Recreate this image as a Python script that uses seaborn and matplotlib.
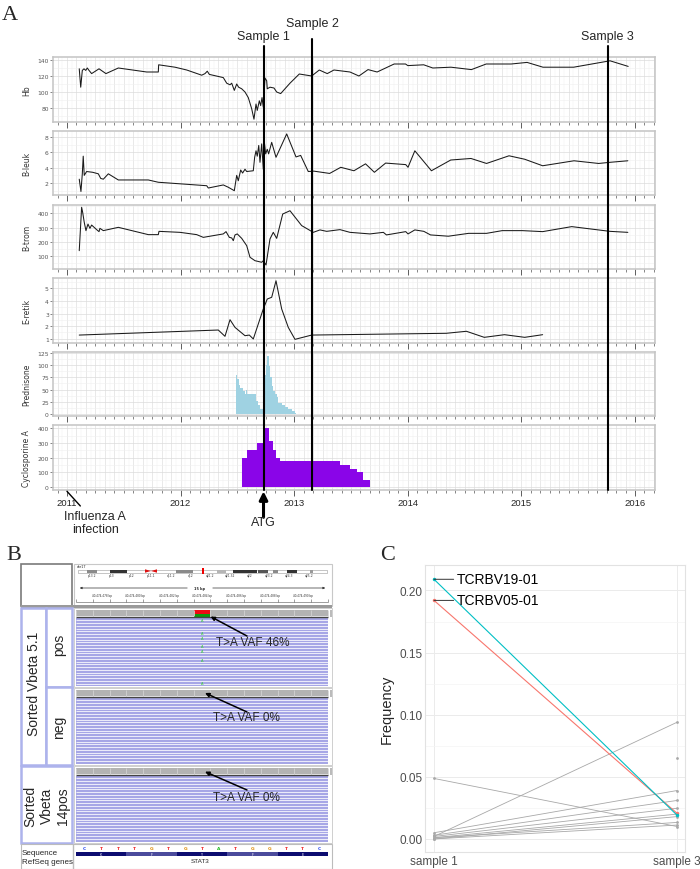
import numpy as np
import pandas as pd
import matplotlib
matplotlib.use("Agg")
import matplotlib.pyplot as plt
import seaborn as sns
from matplotlib.patches import Rectangle, Polygon
from matplotlib.lines import Line2D
from matplotlib.transforms import blended_transform_factory
from matplotlib.ticker import AutoMinorLocator

W, H = 700, 870

# ---------------------------------------------------------------------
# Panel A data (dates as decimal years)
# ---------------------------------------------------------------------
hb_dates = [2011.108, 2011.121, 2011.135, 2011.150, 2011.165, 2011.179, 2011.194, 2011.217,
            2011.282, 2011.343, 2011.452, 2011.702, 2011.804, 2011.807, 2011.951, 2012.054,
            2012.186, 2012.215, 2012.235, 2012.253, 2012.376, 2012.406, 2012.435, 2012.450,
            2012.473, 2012.494, 2012.511, 2012.538, 2012.567, 2012.596, 2012.626, 2012.646,
            2012.664, 2012.675, 2012.693, 2012.705, 2012.717, 2012.728, 2012.743, 2012.758,
            2012.763, 2012.787, 2012.822, 2012.846, 2012.881, 2012.963, 2013.045, 2013.154,
            2013.221, 2013.291, 2013.350, 2013.491, 2013.570, 2013.650, 2013.730, 2013.880,
            2013.980, 2014.000, 2014.140, 2014.220, 2014.380, 2014.560, 2014.690, 2014.910,
            2015.050, 2015.190, 2015.460, 2015.780, 2015.940]
hb_vals = [129, 106, 127, 129, 127, 130, 127, 123, 129, 123, 130, 125, 125, 134, 131, 127.5,
           121, 123, 126, 122, 118, 111, 109, 111, 102, 110, 106, 104, 100, 93, 79, 66,
           85, 77, 89, 83, 93, 81, 117.5, 114, 104, 106, 105, 100, 98, 111, 122.5, 120,
           127.5, 123, 127.5, 125, 120, 128, 125, 135, 135, 133, 134, 130, 131, 128, 135, 135,
           137, 131, 131, 139, 132]

leuk_dates = [2011.108, 2011.123, 2011.135, 2011.143, 2011.152, 2011.173, 2011.226, 2011.276,
              2011.297, 2011.320, 2011.364, 2011.452, 2011.716, 2011.804, 2012.230, 2012.244,
              2012.376, 2012.420, 2012.473, 2012.494, 2012.508, 2012.529, 2012.546, 2012.567,
              2012.582, 2012.640, 2012.652, 2012.664, 2012.675, 2012.688, 2012.699, 2012.714,
              2012.728, 2012.737, 2012.749, 2012.763, 2012.775, 2012.802, 2012.840, 2012.934,
              2013.016, 2013.057, 2013.124, 2013.173, 2013.312, 2013.410, 2013.526, 2013.628,
              2013.706, 2013.805, 2013.982, 2014.002, 2014.062, 2014.208, 2014.378, 2014.556,
              2014.693, 2014.891, 2015.029, 2015.187, 2015.463, 2015.680, 2015.780, 2015.937]
leuk_vals = [2.5, 0.9, 3.2, 5.5, 3.0, 3.5, 3.4, 3.2, 2.6, 2.5, 3.2, 2.4, 2.4, 2.1, 1.65, 1.35,
             1.75, 1.45, 1.0, 3.0, 2.3, 3.7, 3.3, 3.8, 3.5, 3.6, 5.35, 6.2, 5.5, 6.9, 4.7, 7.1,
             3.8, 7.4, 5.8, 6.4, 5.8, 7.3, 5.35, 8.4, 5.4, 5.6, 3.5, 3.55, 3.25, 4.05, 3.6, 4.5,
             3.4, 4.6, 4.4, 4.05, 6.2, 3.6, 5.0, 5.2, 4.55, 5.55, 5.1, 4.25, 4.9, 4.55, 4.7, 4.9]

trom_dates = [2011.108, 2011.129, 2011.138, 2011.152, 2011.167, 2011.185, 2011.202, 2011.217,
              2011.261, 2011.282, 2011.290, 2011.320, 2011.452, 2011.716, 2011.804, 2011.810,
              2011.995, 2012.142, 2012.200, 2012.376, 2012.400, 2012.429, 2012.450, 2012.464,
              2012.479, 2012.499, 2012.538, 2012.582, 2012.611, 2012.655, 2012.714, 2012.728,
              2012.752, 2012.787, 2012.816, 2012.846, 2012.899, 2012.963, 2013.066, 2013.168,
              2013.227, 2013.286, 2013.403, 2013.491, 2013.667, 2013.785, 2013.812, 2013.982,
              2014.002, 2014.062, 2014.141, 2014.200, 2014.357, 2014.535, 2014.693, 2014.831,
              2015.009, 2015.187, 2015.443, 2015.779, 2015.937]
trom_vals = [139, 442, 407, 337, 279, 325, 295, 318, 286, 272, 295, 279, 302, 251, 251, 274,
             267, 251, 232, 256, 272, 232, 228, 209, 249, 256, 225, 174, 93, 69, 58, 69,
             39, 221, 267, 225, 395, 418, 314, 267, 284, 274, 286, 267, 256, 267, 249, 272,
             256, 284, 274, 249, 240, 260, 260, 279, 279, 272, 307, 274, 267]

retik_dates = [2011.108, 2012.332, 2012.391, 2012.435, 2012.479, 2012.567, 2012.605, 2012.640,
               2012.728, 2012.763, 2012.802, 2012.840, 2012.890, 2012.948, 2013.007, 2013.154,
               2014.338, 2014.516, 2014.673, 2014.851, 2015.029, 2015.187]
retik_vals = [1.29, 1.69, 1.19, 2.51, 1.90, 1.24, 1.29, 0.98, 3.36, 4.15, 4.29, 5.6, 3.36,
              1.90, 0.95, 1.29, 1.43, 1.59, 1.11, 1.32, 1.11, 1.32]

# step series: last date closes the final step
pred_dates = [2012.485, 2012.499, 2012.511, 2012.523, 2012.547, 2012.567, 2012.576, 2012.585,
              2012.611, 2012.664, 2012.684, 2012.699, 2012.723, 2012.734, 2012.752, 2012.763,
              2012.776, 2012.787, 2012.802, 2012.816, 2012.831, 2012.846, 2012.860, 2012.890,
              2012.919, 2012.948, 2012.978, 2013.007, 2013.013]
pred_vals = [80, 72, 60, 54, 47, 40, 49, 40, 40, 27, 17, 10, 3, 79, 101, 120, 99, 75, 58, 47,
             40, 34, 22, 18, 13, 10, 6, 2]

cyc_dates = [2012.540, 2012.582, 2012.675, 2012.734, 2012.781, 2012.811, 2012.840, 2012.875,
             2013.403, 2013.491, 2013.550, 2013.608, 2013.667]
cyc_vals = [200, 250, 300, 400, 315, 250, 200, 175, 150, 125, 100, 50]

sample_names = ["Sample 1", "Sample 2", "Sample 3"]
sample_dates = [2012.73, 2013.16, 2015.76]
year_ticks = [2011, 2012, 2013, 2014, 2015, 2016]
atg_date = 2012.73
flu_date = 2011.0

# ---------------------------------------------------------------------
# Panel C data (TCR V-beta clone frequencies)
# ---------------------------------------------------------------------
top_clones = ["TCRBV05-01", "TCRBV19-01"]
top_s1 = [0.192, 0.209]
top_s3 = [0.0205, 0.019]
other_s1 = [0.0487, 0.002, 0.005, 0.003, 0.002, 0.001, 0.000, 0.001, 0.000]
other_s3 = [0.010, 0.094, 0.039, 0.031, 0.0247, 0.020, 0.018, 0.0133, 0.0112]
lone_s3 = [0.0655]
c_labels = ["sample 1", "sample 3"]
c_yticks = [0.00, 0.05, 0.10, 0.15, 0.20]

# IGV screenshot content
seq_bases = list("CTTTGTGTATGGTTC")
base_colors = {"A": "#22bb22", "C": "#2244ee", "G": "#dd8800", "T": "#ee2222"}
amino = ["K", "F", "Y", "F", "E"]
band_labels = ["p13.2", "p13", "p12", "p11.1", "q11.2", "q12", "q21.2", "q21.32",
               "q22", "q23.2", "q24.3", "q25.2"]
coord_labels = ["40,474,478 bp", "40,474,480 bp", "40,474,482 bp", "40,474,484 bp",
                "40,474,486 bp", "40,474,488 bp", "40,474,490 bp"]

# ---------------------------------------------------------------------
sns.set_theme(style="white")
plt.rcParams['font.family'] = ['DejaVu Sans']
ARIAL = ['Liberation Sans', 'DejaVu Sans']

fig = plt.figure(figsize=(W / 100, H / 100), dpi=100)


def px_rect(l, t, r, b):
    return [l / W, 1 - b / H, (r - l) / W, (b - t) / H]


X0, X1 = 2010.877, 2016.176
months = np.arange(2011 - 1 / 12, X1, 1 / 12)
half_months = months + 1 / 24

panels = [
    ("Hb", (58, 123), (62.5, 143.75), [80, 100, 120, 140]),
    ("B-leuk", (132, 196), (0.44, 8.78), [2, 4, 6, 8]),
    ("B-trom", (206, 270), (11, 458), [100, 200, 300, 400]),
    ("E-retik", (279, 344), (0.66, 5.82), [1, 2, 3, 4, 5]),
    ("Prednisone", (353, 417), (-4.75, 127.5), [0, 25, 50, 75, 100, 125]),
    ("Cyclosporine A", (426, 491), (-20.5, 423), [0, 100, 200, 300, 400]),
]

axes = []
for i, (name, (t, b), ylim, yt) in enumerate(panels):
    ax = fig.add_axes(px_rect(53, t, 655, b))
    ax.set_xlim(X0, X1)
    ax.set_ylim(*ylim)
    ax.set_yticks(yt)
    ax.yaxis.set_minor_locator(AutoMinorLocator(2))
    ax.set_xticks(year_ticks)
    ax.set_xticks(months, minor=True)
    ax.grid(axis='x', which='both', color='#dcdcdc', lw=0.45)
    ax.grid(axis='y', which='major', color='#dcdcdc', lw=0.5)
    ax.grid(axis='y', which='minor', color='#efefef', lw=0.4)
    ax.vlines(half_months, 0, 1, transform=ax.get_xaxis_transform(),
              color='#f0f0f0', lw=0.35, zorder=0)
    ax.set_axisbelow(True)
    for s in ax.spines.values():
        s.set_color('#c4c4c4')
        s.set_linewidth(1.1)
    last = i == len(panels) - 1
    ax.tick_params(axis='x', which='major', bottom=True, length=4, width=0.6, color='#444',
                   labelbottom=last, labelsize=6.5, pad=2)
    ax.tick_params(axis='x', which='minor', bottom=True, length=2.5, width=0.5, color='#555')
    ax.tick_params(axis='y', which='major', left=True, length=2, width=0.5, color='#555',
                   labelsize=4.3, labelcolor='#555', pad=1)
    ax.tick_params(axis='y', which='minor', left=False)
    if last:
        for lab in ax.get_xticklabels():
            lab.set_fontfamily(ARIAL)
            lab.set_fontsize(6.8)
    ax.set_ylabel(name, fontsize=5.5, color='#333')
    ax.yaxis.set_label_coords(-(53 - 31) / 602, 0.5)
    axes.append(ax)

ax_hb, ax_leuk, ax_trom, ax_retik, ax_pred, ax_cyc = axes

line_kw = dict(color='#1a1a1a', lw=0.75, estimator=None, sort=False)
sns.lineplot(x=hb_dates, y=hb_vals, ax=ax_hb, **line_kw)
sns.lineplot(x=leuk_dates, y=leuk_vals, ax=ax_leuk, **line_kw)
sns.lineplot(x=trom_dates, y=trom_vals, ax=ax_trom, **line_kw)
sns.lineplot(x=retik_dates, y=retik_vals, ax=ax_retik, **line_kw)

ax_pred.fill_between(pred_dates, np.append(pred_vals, pred_vals[-1]), step='post',
                     color='#9fd2e2', lw=0, zorder=2)
ax_cyc.fill_between(cyc_dates, np.append(cyc_vals, cyc_vals[-1]), step='post',
                    color='#8a05e8', lw=0, zorder=2)

# sample lines across all panels
blend = blended_transform_factory(ax_cyc.transData, fig.transFigure)
line_tops = [47, 40, 47]
text_ys = [37, 24, 37]
for d, name, top, ty in zip(sample_dates, sample_names, line_tops, text_ys):
    fig.add_artist(Line2D([d, d], [1 - top / H, 1 - 491 / H], transform=blend,
                          color='black', lw=1.5, zorder=10))
    fig.text(d, 1 - ty / H, name, transform=blend, ha='center', va='center',
             fontsize=9, family=ARIAL)

# annotations under the time axis
ax_cyc.annotate('', xy=(atg_date, -0.02), xycoords=('data', 'axes fraction'),
                xytext=(atg_date, -0.42), textcoords=('data', 'axes fraction'),
                arrowprops=dict(arrowstyle='-|>', color='black', lw=2.2, mutation_scale=12,
                                shrinkA=0, shrinkB=0), annotation_clip=False)
ax_cyc.text(atg_date, -0.5, 'ATG', transform=ax_cyc.get_xaxis_transform(), ha='center',
            va='center', fontsize=9, family=ARIAL)
ax_cyc.annotate('Influenza A\ninfection', xy=(flu_date, -0.02), xycoords=('data', 'axes fraction'),
                xytext=(flu_date + 0.25, -0.5), textcoords=('data', 'axes fraction'),
                ha='center', va='center', fontsize=9, family=ARIAL, linespacing=1.05,
                arrowprops=dict(arrowstyle='-', color='black', lw=1.0, shrinkA=1, shrinkB=0),
                annotation_clip=False)

# ---------------------------------------------------------------------
# Panel B: IGV view drawn in pixel coordinates
# ---------------------------------------------------------------------
ov = fig.add_axes([0, 0, 1, 1], zorder=5)
ov.set_xlim(0, W)
ov.set_ylim(H, 0)
ov.axis('off')


def rect(x0, y0, x1, y1, **kw):
    ov.add_patch(Rectangle((x0, y0), x1 - x0, y1 - y0, **kw))


for lab, (x, y) in zip("ABC", [(10, 16), (14, 556), (388, 556)]):
    ov.text(x, y, lab, fontsize=16, family='Liberation Serif', ha='center', va='center')

# header
rect(21, 565, 72, 607, fc='white', ec='#7a7a7a', lw=1.2)
rect(74, 565, 332, 607, fc='white', ec='#c8c8c8', lw=0.8)
ov.text(77, 567.3, 'chr17', fontsize=2.4, va='center')
rect(78, 570.5, 327, 573.5, fc='white', ec='#999999', lw=0.4)
bands = [(86.7, 97.3, '#8a8a8a'), (110, 126.7, '#333333'), (176, 192.7, '#8a8a8a'),
         (216.7, 225.7, '#b5b5b5'), (233.3, 256.7, '#333333'), (258, 268, '#555555'),
         (272.7, 278.3, '#8a8a8a'), (286.7, 296.7, '#333333'), (310, 313, '#999999')]
for x0, x1, c in bands:
    rect(x0, 570.5, x1, 573.5, fc=c, ec='none')
ov.add_patch(Polygon([(145, 570.3), (151, 572), (145, 573.7)], fc='#dd1111', ec='none'))
ov.add_patch(Polygon([(157, 570.3), (151, 572), (157, 573.7)], fc='#dd1111', ec='none'))
rect(202, 569.3, 204.3, 574.7, fc='#ee0000', ec='none')
for k, lab in enumerate(band_labels):
    ov.text(92 + k * 19.7, 576, lab, fontsize=2.2, ha='center', va='center', color='#333')
ov.annotate('', xy=(77, 589), xytext=(190, 589),
            arrowprops=dict(arrowstyle='-|>', lw=0.5, color='#333', mutation_scale=3))
ov.annotate('', xy=(328, 589), xytext=(210, 589),
            arrowprops=dict(arrowstyle='-|>', lw=0.5, color='#333', mutation_scale=3))
ov.text(200, 588.8, '15 bp', fontsize=2.5, ha='center', va='center', weight='bold')
for k, lab in enumerate(coord_labels):
    ov.text(101.7 + k * 33.6, 596.5, lab, fontsize=2.0, ha='center', va='center', color='#333')
ov.hlines(602.5, 76, 328, color='#555', lw=0.4)
base_edges = 76 + np.arange(16) * 16.8
ov.vlines(base_edges, 599.5, 602.5, color='#555', lw=0.4)
rect(21, 606, 332, 608.5, fc='#9a9a9a', ec='none')

# read tracks
tracks = [(609, 688), (689, 766), (767, 844)]
for y0, y1 in tracks:
    rect(74, y0, 332, y1, fc='white', ec='#c8c8c8', lw=0.6)
    rect(76, y0 + 2, 328, y0 + 8, fc='#b3b3b3', ec='none')
    ov.vlines(base_edges, y0 + 2, y0 + 8, color='#d2d2d2', lw=0.6)
    ov.hlines(y0 + 8.8, 76, 328, color='#444', lw=1.0)
    rect(76, y0 + 9.6, 328, y1 - 1, fc='#a6a6e6', ec='none')
    ov.hlines(np.arange(y0 + 12.3, y1 - 1.5, 2.75), 76, 328, color='white', lw=0.55)
    rect(329.5, y0 + 2, 331.5, y0 + 9, fc='#bbbbbb', ec='none')

# mutation mark in the pos track
rect(base_edges[7], 611, base_edges[8], 615.3, fc='#ee0a14', ec='none')
rect(base_edges[7], 615.3, base_edges[8], 618, fc='#0c9a0c', ec='none')
for y in [620.7, 634, 639, 647.3, 652.3, 660.7, 684]:
    ov.text(base_edges[7] + 8.4, y, 'A', fontsize=2.6, color='#33cc33', ha='center', va='center')

# track labels
box_ec = '#adb3ec'
rect(21, 609, 46, 766, fc='white', ec=box_ec, lw=1.8)
rect(46, 609, 72, 688, fc='white', ec=box_ec, lw=1.8)
rect(46, 688, 72, 766, fc='white', ec=box_ec, lw=1.8)
rect(21, 767, 72, 844, fc='white', ec=box_ec, lw=1.8)
ov.text(33.5, 684, 'Sorted Vbeta 5.1', rotation=90, fontsize=10, family=ARIAL,
        ha='center', va='center')
ov.text(59, 645, 'pos', rotation=90, fontsize=10, family=ARIAL, ha='center', va='center')
ov.text(59, 727, 'neg', rotation=90, fontsize=10, family=ARIAL, ha='center', va='center')
ov.text(46.5, 806, 'Sorted\nVbeta\n14pos', rotation=90, fontsize=10, family=ARIAL,
        ha='center', va='center', linespacing=1.2, multialignment='center')

# arrows with VAF
arrow_kw = dict(arrowstyle='-|>', color='black', lw=1.1, mutation_scale=6, shrinkA=0, shrinkB=0)
vaf_text = ['T>A VAF 46%', 'T>A VAF 0%', 'T>A VAF 0%']
tails = [(247, 637), (247, 713), (247, 791)]
tips = [(210.5, 617.5), (205, 694), (205, 772.7)]
text_pos = [(216.5, 643), (213, 718), (213, 798)]
for s, tl, tp, (tx, ty) in zip(vaf_text, tails, tips, text_pos):
    ov.annotate('', xy=tp, xytext=tl, arrowprops=arrow_kw)
    ov.text(tx, ty, s, fontsize=8.5, family=ARIAL, ha='left', va='center')

# sequence / gene rows
rect(21, 845, 332, 870, fc='white', ec='#bcbcbc', lw=0.8)
ov.vlines(73, 845, 870, color='#bcbcbc', lw=1.0)
ov.text(22, 853.3, 'Sequence', fontsize=5.8, family=ARIAL, va='center')
ov.text(22, 862.7, 'RefSeq genes', fontsize=5.8, family=ARIAL, va='center')
for k, b in enumerate(seq_bases):
    ov.text(base_edges[k] + 8.4, 849.3, b, fontsize=3.2, color=base_colors[b],
            ha='center', va='center', weight='bold')
for k, aa in enumerate(amino):
    c = '#0c0c70' if k % 2 == 0 else '#4b4b9c'
    rect(base_edges[3 * k], 853.3, base_edges[3 * k + 3], 857.3, fc=c, ec='none')
    ov.text(base_edges[3 * k] + 25.2, 855.3, aa, fontsize=2.4, color='white',
            ha='center', va='center')
ov.text(200, 861.7, 'STAT3', fontsize=4.6, family=ARIAL, ha='center', va='center')

# ---------------------------------------------------------------------
# Panel C
# ---------------------------------------------------------------------
axc = fig.add_axes(px_rect(425, 566, 685, 853))
n_other = len(other_s1)
df_other = pd.DataFrame({
    'clone': list(range(n_other)) * 2,
    'x': [0] * n_other + [1] * n_other,
    'freq': other_s1 + other_s3,
})
df_top = pd.DataFrame({
    'clone': top_clones * 2,
    'x': [0] * len(top_clones) + [1] * len(top_clones),
    'freq': top_s1 + top_s3,
})
sns.lineplot(data=df_other, x='x', y='freq', units='clone', estimator=None, color='#a8a8a8',
             lw=0.6, marker='o', markersize=2, markeredgewidth=0, ax=axc)
sns.scatterplot(x=[1] * len(lone_s3), y=lone_s3, color='#a8a8a8', s=4, linewidth=0, ax=axc)
sns.lineplot(data=df_top, x='x', y='freq', hue='clone', estimator=None,
             palette={'TCRBV05-01': '#F8766D', 'TCRBV19-01': '#00BFC4'},
             lw=0.8, marker='o', markersize=2.5, markeredgewidth=0, legend=False, ax=axc)
for name, v in zip(top_clones, top_s1):
    axc.annotate(name, xy=(0, v), xytext=(16.5, 0), textcoords='offset points',
                 ha='left', va='center', fontsize=10, family=ARIAL, color='black',
                 arrowprops=dict(arrowstyle='-', color='#333', lw=0.7, shrinkA=0, shrinkB=0))

axc.set_xlim(-0.037, 1.032)
axc.set_ylim(-0.0105, 0.2205)
axc.set_xticks([0, 1])
axc.set_xticklabels(c_labels)
axc.set_yticks(c_yticks)
axc.set_yticklabels([f"{v:.2f}" for v in c_yticks])
axc.yaxis.set_minor_locator(AutoMinorLocator(2))
axc.set_xlabel('')
axc.set_ylabel('Frequency', fontsize=10.5, family=ARIAL, labelpad=4)
axc.grid(axis='both', which='major', color='#ebebeb', lw=0.7)
axc.grid(axis='y', which='minor', color='#f4f4f4', lw=0.5)
axc.set_axisbelow(True)
for s in axc.spines.values():
    s.set_color('#e2e2e2')
    s.set_linewidth(0.8)
axc.tick_params(axis='both', which='both', length=0, labelsize=8.5, labelcolor='#4d4d4d', pad=2)
for lab in axc.get_xticklabels() + axc.get_yticklabels():
    lab.set_fontfamily(ARIAL)

fig.savefig("out.png", dpi=100)
